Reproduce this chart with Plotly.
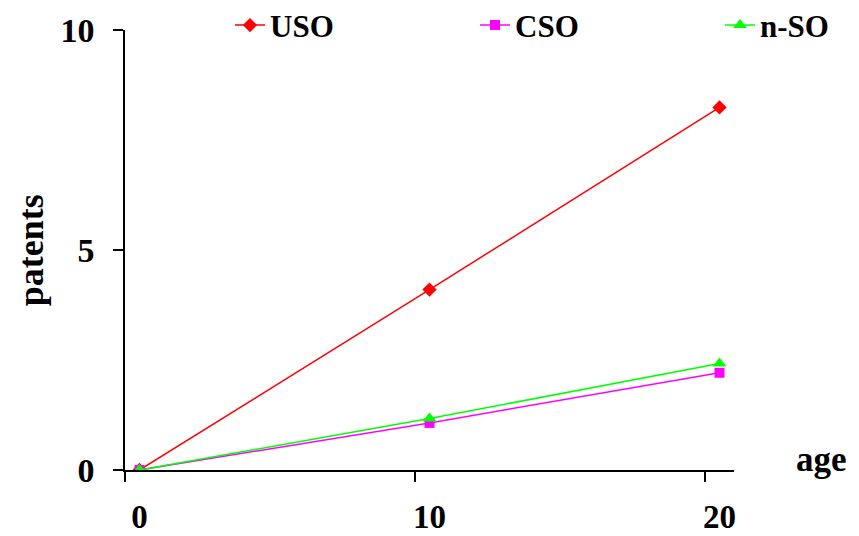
import plotly.graph_objects as go

age_pos = [0.5, 10.5, 20.5]
age_labels = ["0", "10", "20"]
uso = [0, 4.1, 8.24]
cso = [0, 1.07, 2.21]
nso = [0, 1.17, 2.42]

FONT = "Liberation Serif"
W, H = 851, 528

fig = go.Figure()
fig.add_trace(go.Scatter(x=age_pos, y=uso, name="<b>USO</b>", mode="lines+markers",
                         legend="legend",
                         line=dict(color="#FF0000", width=1.5),
                         marker=dict(symbol="diamond", size=11, color="#FF0000")))
fig.add_trace(go.Scatter(x=age_pos, y=cso, name="<b>CSO</b>", mode="lines+markers",
                         legend="legend2",
                         line=dict(color="#FF00FF", width=1.5),
                         marker=dict(symbol="square", size=10, color="#FF00FF")))
fig.add_trace(go.Scatter(x=age_pos, y=nso, name="<b>n-SO</b>", mode="lines+markers",
                         legend="legend3",
                         line=dict(color="#00FF00", width=1.5),
                         marker=dict(symbol="triangle-up", size=12, color="#00FF00")))

def leg(x):
    return dict(orientation="h", xref="container", yref="container",
                x=x, y=0.967, xanchor="left", yanchor="middle",
                font=dict(family=FONT, size=31, color="black"),
                bgcolor="rgba(0,0,0,0)")

fig.update_layout(
    width=W, height=H,
    margin=dict(l=117, r=125, t=22, b=66, autoexpand=False),
    plot_bgcolor="white", paper_bgcolor="white",
    font=dict(family=FONT, color="black"),
    showlegend=True,
    legend=leg(222 / W),
    legend2=leg(467 / W),
    legend3=leg(712 / W),
    xaxis=dict(range=[0, 21], showgrid=False, zeroline=False,
               showline=True, linecolor="black", linewidth=1.5,
               tickmode="array", tickvals=age_pos, ticktext=[f"<b>{t}</b>" for t in age_labels],
               ticks="", ticklabelstandoff=17,
               tickfont=dict(family=FONT, size=33, color="black"),
               minor=dict(tickmode="array", tickvals=[0, 10, 20], ticks="outside",
                          ticklen=10, tickcolor="black", tickwidth=1.5, showgrid=False)),
    yaxis=dict(range=[0, 10], showgrid=False, zeroline=False,
               showline=True, linecolor="black", linewidth=1.5,
               tickmode="array", tickvals=[0, 5, 10], ticktext=["<b>0</b>", "<b>5</b>", "<b>10</b>"],
               ticks="outside", ticklen=10, tickcolor="black", tickwidth=1.5,
               ticklabelstandoff=12,
               tickfont=dict(family=FONT, size=34, color="black")),
    annotations=[
        dict(text="<b>age</b>", xref="paper", yref="paper", x=1.143, y=0.025,
             xanchor="center", yanchor="middle", showarrow=False,
             font=dict(family=FONT, size=35, color="black")),
        dict(text="<b>patents</b>", xref="paper", yref="paper", x=-0.154, y=0.5,
             xanchor="center", yanchor="middle", showarrow=False, textangle=-90,
             font=dict(family=FONT, size=36, color="black")),
    ],
)

fig.write_html("out.html")
